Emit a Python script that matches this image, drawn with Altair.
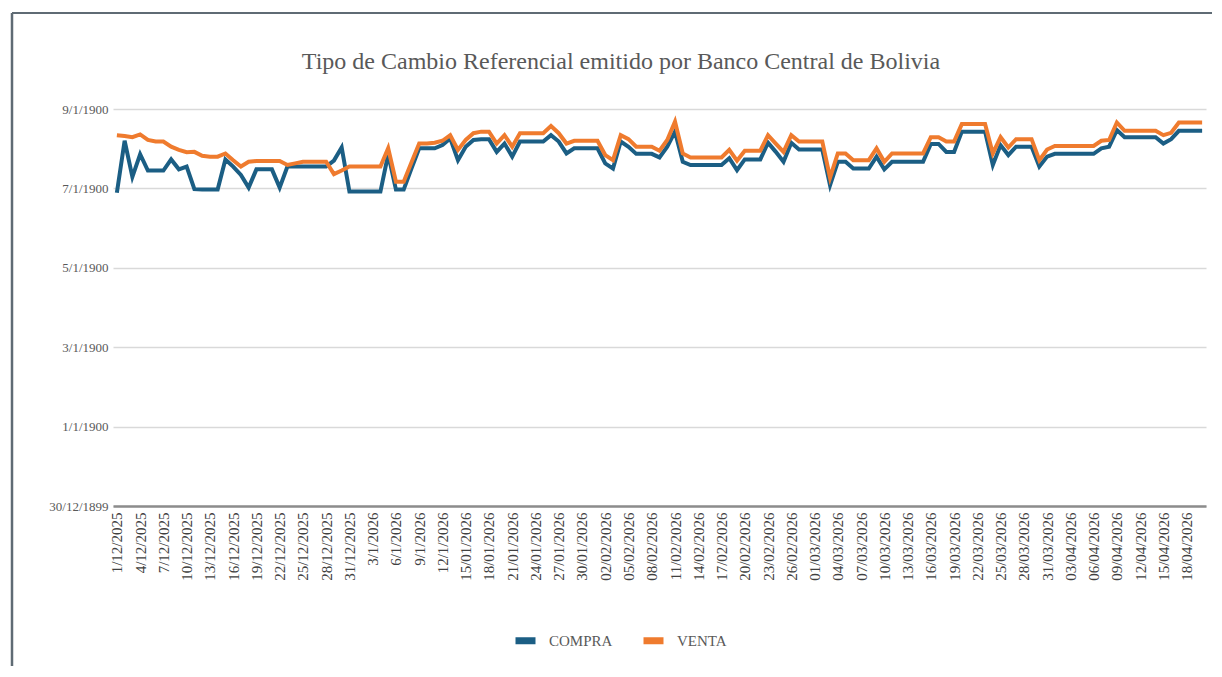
import altair as alt
import pandas as pd

SERIF = "Liberation Serif"

titulo = "Tipo de Cambio Referencial emitido por Banco Central de Bolivia"

fechas = [
    "1/12/2025", "2/12/2025", "3/12/2025", "4/12/2025", "5/12/2025", "6/12/2025", "7/12/2025",
    "8/12/2025", "9/12/2025", "10/12/2025", "11/12/2025", "12/12/2025", "13/12/2025", "14/12/2025",
    "15/12/2025", "16/12/2025", "17/12/2025", "18/12/2025", "19/12/2025", "20/12/2025", "21/12/2025",
    "22/12/2025", "23/12/2025", "24/12/2025", "25/12/2025", "26/12/2025", "27/12/2025", "28/12/2025",
    "29/12/2025", "30/12/2025", "31/12/2025",
    "1/1/2026", "2/1/2026", "3/1/2026", "4/1/2026", "5/1/2026", "6/1/2026", "7/1/2026",
    "8/1/2026", "9/1/2026", "10/1/2026", "11/1/2026", "12/1/2026", "13/01/2026", "14/01/2026",
    "15/01/2026", "16/01/2026", "17/01/2026", "18/01/2026", "19/01/2026", "20/01/2026", "21/01/2026",
    "22/01/2026", "23/01/2026", "24/01/2026", "25/01/2026", "26/01/2026", "27/01/2026", "28/01/2026",
    "29/01/2026", "30/01/2026", "31/01/2026",
    "01/02/2026", "02/02/2026", "03/02/2026", "04/02/2026", "05/02/2026", "06/02/2026", "07/02/2026",
    "08/02/2026", "09/02/2026", "10/02/2026", "11/02/2026", "12/02/2026", "13/02/2026", "14/02/2026",
    "15/02/2026", "16/02/2026", "17/02/2026", "18/02/2026", "19/02/2026", "20/02/2026", "21/02/2026",
    "22/02/2026", "23/02/2026", "24/02/2026", "25/02/2026", "26/02/2026", "27/02/2026", "28/02/2026",
    "01/03/2026", "02/03/2026", "03/03/2026", "04/03/2026", "05/03/2026", "06/03/2026", "07/03/2026",
    "08/03/2026", "09/03/2026", "10/03/2026", "11/03/2026", "12/03/2026", "13/03/2026", "14/03/2026",
    "15/03/2026", "16/03/2026", "17/03/2026", "18/03/2026", "19/03/2026", "20/03/2026", "21/03/2026",
    "22/03/2026", "23/03/2026", "24/03/2026", "25/03/2026", "26/03/2026", "27/03/2026", "28/03/2026",
    "29/03/2026", "30/03/2026", "31/03/2026",
    "01/04/2026", "02/04/2026", "03/04/2026", "04/04/2026", "05/04/2026", "06/04/2026", "07/04/2026",
    "08/04/2026", "09/04/2026", "10/04/2026", "11/04/2026", "12/04/2026", "13/04/2026", "14/04/2026",
    "15/04/2026", "16/04/2026", "17/04/2026", "18/04/2026", "19/04/2026", "20/04/2026",
]

compra = [
    7.89, 9.20, 8.29, 8.86, 8.45, 8.45, 8.45, 8.73, 8.48, 8.55,
    7.98, 7.97, 7.97, 7.97, 8.73, 8.55, 8.34, 8.02, 8.48, 8.48,
    8.48, 8.02, 8.55, 8.55, 8.55, 8.55, 8.55, 8.55, 8.70, 9.03,
    7.92, 7.92, 7.92, 7.92, 7.92, 8.86, 7.97, 7.97, 8.50, 9.01,
    9.01, 9.01, 9.09, 9.26, 8.71, 9.05, 9.22, 9.24, 9.24, 8.92,
    9.13, 8.80, 9.18, 9.18, 9.18, 9.18, 9.34, 9.18, 8.88, 9.01,
    9.01, 9.01, 9.01, 8.63, 8.50, 9.18, 9.05, 8.87, 8.87, 8.87,
    8.78, 9.05, 9.43, 8.67, 8.59, 8.59, 8.59, 8.59, 8.59, 8.76,
    8.46, 8.73, 8.73, 8.73, 9.15, 8.92, 8.67, 9.15, 8.98, 8.98,
    8.98, 8.98, 8.08, 8.67, 8.67, 8.50, 8.50, 8.50, 8.80, 8.48,
    8.67, 8.67, 8.67, 8.67, 8.67, 9.12, 9.12, 8.92, 8.92, 9.43,
    9.43, 9.43, 9.43, 8.59, 9.09, 8.84, 9.05, 9.05, 9.05, 8.55,
    8.80, 8.87, 8.87, 8.87, 8.87, 8.87, 8.87, 9.01, 9.05, 9.47,
    9.29, 9.29, 9.29, 9.29, 9.29, 9.13, 9.24, 9.45, 9.45, 9.45,
    9.45,
]

venta = [
    9.34, 9.32, 9.29, 9.36, 9.22, 9.18, 9.18, 9.05, 8.97, 8.91,
    8.92, 8.82, 8.80, 8.80, 8.88, 8.71, 8.55, 8.67, 8.69, 8.69,
    8.69, 8.69, 8.59, 8.63, 8.67, 8.67, 8.67, 8.67, 8.36, 8.45,
    8.55, 8.55, 8.55, 8.55, 8.55, 9.01, 8.17, 8.17, 8.65, 9.13,
    9.13, 9.15, 9.20, 9.34, 8.97, 9.22, 9.39, 9.43, 9.43, 9.13,
    9.34, 9.05, 9.39, 9.39, 9.39, 9.39, 9.57, 9.39, 9.13, 9.20,
    9.20, 9.20, 9.20, 8.84, 8.71, 9.34, 9.24, 9.05, 9.05, 9.05,
    8.95, 9.22, 9.68, 8.88, 8.78, 8.78, 8.78, 8.78, 8.78, 8.97,
    8.70, 8.95, 8.95, 8.95, 9.34, 9.13, 8.92, 9.34, 9.18, 9.18,
    9.18, 9.18, 8.27, 8.88, 8.88, 8.71, 8.71, 8.71, 9.01, 8.67,
    8.88, 8.88, 8.88, 8.88, 8.88, 9.29, 9.29, 9.18, 9.18, 9.62,
    9.62, 9.62, 9.62, 8.88, 9.29, 9.03, 9.24, 9.24, 9.24, 8.71,
    8.98, 9.07, 9.07, 9.07, 9.07, 9.07, 9.07, 9.20, 9.22, 9.66,
    9.45, 9.45, 9.45, 9.45, 9.45, 9.34, 9.40, 9.66, 9.66, 9.66,
    9.66,
]

series = ["COMPRA", "VENTA"]
colores = ["#1b5e84", "#ef7b2e"]

x_tick_labels = fechas[::3]
y_tick_values = [0, 2, 4, 6, 8, 10]
y_tick_labels = ["30/12/1899", "1/1/1900", "3/1/1900", "5/1/1900", "7/1/1900", "9/1/1900"]

label_expr = ""
for v, t in zip(y_tick_values, y_tick_labels):
    label_expr += f"datum.value == {v} ? '{t}' : "
label_expr += "''"

rows = []
for nombre, vals in zip(series, [compra, venta]):
    for f, v in zip(fechas, vals):
        rows.append({"fecha": f, "serie": nombre, "valor": v})
df = pd.DataFrame(rows)

# plot area placement (page pixels)
LEFT, TOP, W, H = 113, 109, 1093, 397

lines = alt.Chart(df).mark_line(strokeWidth=4).encode(
    x=alt.X(
        "fecha:N",
        sort=fechas,
        scale=alt.Scale(type="point", padding=0.5),
        axis=alt.Axis(
            values=x_tick_labels, title=None, labelAngle=270, labelFont=SERIF,
            labelFontSize=15, labelColor="#404040", labelPadding=6, ticks=False,
            domainColor="#8c8c8c", domainWidth=2.5, grid=False, labelOverlap=False,
        ),
    ),
    y=alt.Y(
        "valor:Q",
        scale=alt.Scale(domain=[0, 10], nice=False),
        axis=alt.Axis(
            values=y_tick_values, labelExpr=label_expr, title=None, grid=True,
            gridColor="#d9d9d9", gridWidth=1.5, domain=False, ticks=False,
            labelFont=SERIF, labelFontSize=13, labelColor="#595959", labelPadding=5,
        ),
    ),
    color=alt.Color(
        "serie:N",
        scale=alt.Scale(domain=series, range=colores),
        legend=alt.Legend(
            title=None, orient="none", legendX=399, legendY=518, direction="horizontal",
            symbolType="stroke", symbolSize=400, symbolStrokeWidth=7,
            labelFont=SERIF, labelFontSize=15, labelColor="#595959",
            labelOffset=10, columnPadding=16,
        ),
    ),
)

deco = pd.DataFrame({"k": [0]})
frame_left = alt.Chart(deco).mark_rule(color="#5f6b74", strokeWidth=2.5).encode(
    x=alt.value(12 - LEFT), y=alt.value(13 - TOP), y2=alt.value(700 - TOP)
)
frame_top = alt.Chart(deco).mark_rule(color="#5f6b74", strokeWidth=2).encode(
    x=alt.value(12 - LEFT), x2=alt.value(1230 - LEFT), y=alt.value(13 - TOP)
)
title_mark = alt.Chart(deco).mark_text(
    text=titulo, font=SERIF, fontSize=24, color="#595959", align="center", baseline="middle"
).encode(x=alt.value(621 - LEFT), y=alt.value(62 - TOP))

chart = alt.layer(frame_left, frame_top, title_mark, lines).properties(
    width=W,
    height=H,
    padding={"left": LEFT - 8, "top": TOP - 8, "right": 6, "bottom": 160},
    autosize=alt.AutoSizeParams(type="none"),
).configure_view(stroke=None)

chart.save("out.html", embed_options={"renderer": "svg", "actions": False})
